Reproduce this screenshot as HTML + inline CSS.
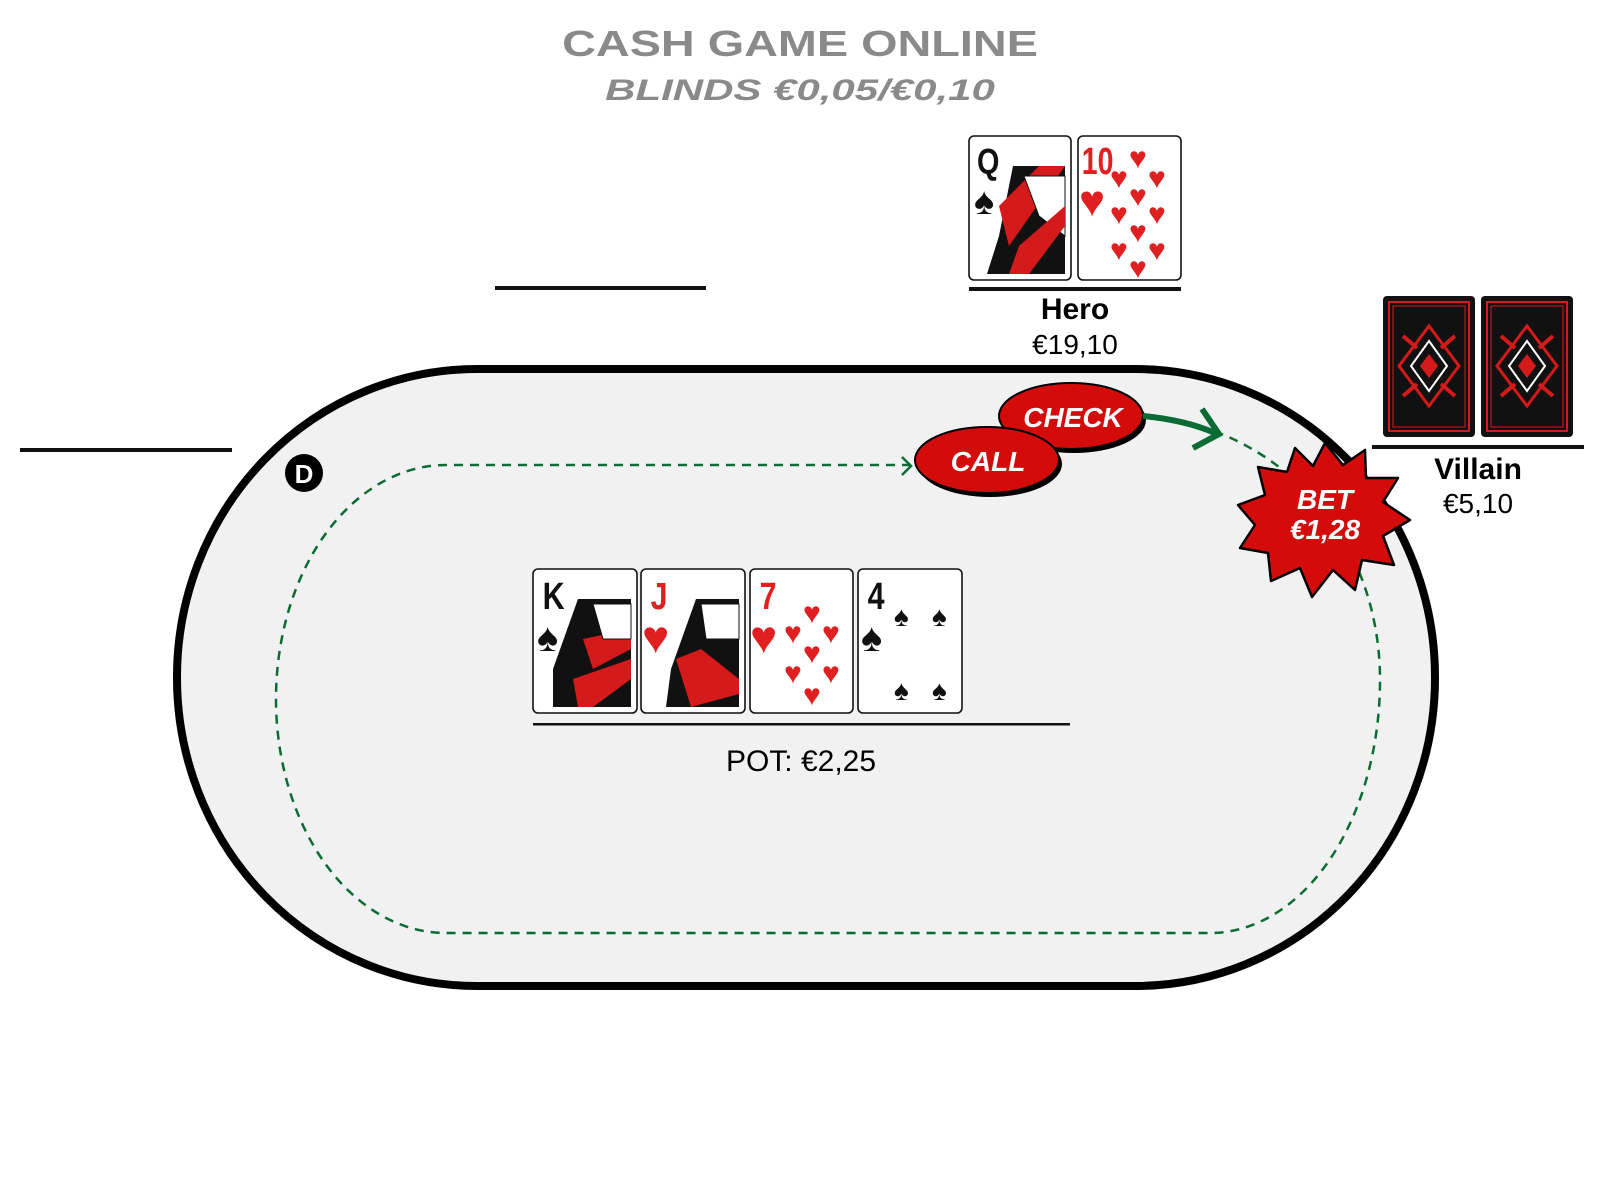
<!DOCTYPE html>
<html><head><meta charset="utf-8"><style>
html,body{margin:0;padding:0;background:#fff;width:1600px;height:1200px;overflow:hidden}
svg{display:block}
.t{font-family:"Liberation Sans",sans-serif}
</style></head><body>
<svg width="1600" height="1200" viewBox="0 0 1600 1200" xmlns="http://www.w3.org/2000/svg" class="t">
<defs>
<g id="back">
  <rect x="0" y="0" width="92" height="141" rx="4" fill="#111"/>
  <rect x="6" y="6" width="80" height="129" fill="none" stroke="#d41a1a" stroke-width="2"/>
  <rect x="10" y="10" width="72" height="121" fill="none" stroke="#d41a1a" stroke-width="1"/>
  <path d="M46 30 L76 70 L46 110 L16 70 Z" fill="none" stroke="#d41a1a" stroke-width="3"/>
  <path d="M46 45 L64 70 L46 95 L28 70 Z" fill="none" stroke="#fff" stroke-width="2"/>
  <path d="M46 58 L55 70 L46 82 L37 70 Z" fill="#d41a1a"/>
  <path d="M20 40 L34 52 M72 40 L58 52 M20 100 L34 88 M72 100 L58 88" stroke="#d41a1a" stroke-width="4"/>
</g>
</defs>

<!-- title -->
<text x="0" y="56" text-anchor="middle" font-size="36" font-weight="bold" fill="#8a8a8a" transform="translate(800,0) scale(1.3,1)">CASH GAME ONLINE</text>
<text x="0" y="100" text-anchor="middle" font-size="30" font-weight="bold" font-style="italic" fill="#8a8a8a" transform="translate(800,0) scale(1.4,1)">BLINDS €0,05/€0,10</text>

<!-- seat lines -->
<rect x="495" y="286" width="211" height="4" fill="#111"/>
<rect x="20" y="448" width="212" height="4" fill="#111"/>

<!-- table -->
<rect x="177" y="369" width="1258" height="617" rx="300" ry="308" fill="#f1f1f1" stroke="#000" stroke-width="8"/>

<!-- dashed path -->
<path d="M911 465 L446 465 A170 234 0 0 0 276 699 A170 234 0 0 0 446 933 L1210 933 A170 253 0 0 0 1380 680 C1380 580 1330 480 1222 434" fill="none" stroke="#0b6b35" stroke-width="2.5" stroke-dasharray="9 7"/>
<path d="M902 457 L911 466 L902 475" fill="none" stroke="#0b6b35" stroke-width="2.5"/>

<!-- dealer button -->
<circle cx="304" cy="473" r="19" fill="#000"/>
<text x="304" y="483" text-anchor="middle" font-size="26" font-weight="bold" fill="#fff">D</text>

<!-- hero cards -->
<g transform="translate(969,136)">
  <rect width="102" height="144" rx="5" fill="#fff" stroke="#111" stroke-width="1.6"/>
  <text x="10" y="38" font-size="36" font-weight="bold" fill="#111" transform="scale(0.8,1)">Q</text>
  <text x="5" y="78" font-size="38" fill="#111">♠</text>
  <path d="M44 30 L96 30 L96 138 L18 138 L30 100 Z" fill="#111"/>
  <path d="M30 70 L70 30 L96 30 L40 110 Z" fill="#d41a1a"/>
  <path d="M55 40 L96 40 L96 100 L70 80 Z" fill="#fff" stroke="#111"/>
  <path d="M50 110 L96 70 L96 90 L60 138 L40 138 Z" fill="#d41a1a"/>
</g>
<g transform="translate(1078,136)">
  <rect width="103" height="144" rx="5" fill="#fff" stroke="#111" stroke-width="1.6"/>
  <text x="5" y="38" font-size="38" font-weight="bold" fill="#e02020" transform="scale(0.75,1)">10</text>
  <text x="1" y="80" font-size="44" fill="#e02020">♥</text>
  <g font-size="30" fill="#e02020">
    <text x="51" y="32">♥</text><text x="32" y="52">♥</text><text x="70" y="52">♥</text>
    <text x="51" y="70">♥</text><text x="32" y="88">♥</text><text x="70" y="88">♥</text>
    <text x="51" y="106">♥</text><text x="32" y="124">♥</text><text x="70" y="124">♥</text><text x="51" y="142">♥</text>
  </g>
</g>
<rect x="969" y="287" width="212" height="4" fill="#111"/>
<text x="1075" y="319" text-anchor="middle" font-size="30" font-weight="bold" fill="#000">Hero</text>
<text x="1075" y="354" text-anchor="middle" font-size="28" fill="#000">€19,10</text>

<!-- villain -->
<use href="#back" x="1383" y="296"/>
<use href="#back" x="1481" y="296"/>
<rect x="1372" y="445" width="212" height="4" fill="#111"/>
<text x="1478" y="479" text-anchor="middle" font-size="30" font-weight="bold" fill="#000">Villain</text>
<text x="1478" y="513" text-anchor="middle" font-size="28" fill="#000">€5,10</text>

<!-- check / call -->
<ellipse cx="1074" cy="420" rx="72" ry="33" fill="#000"/>
<ellipse cx="1071" cy="416" rx="72" ry="33" fill="#d40b0b" stroke="#000" stroke-width="2"/>
<text x="1073" y="427" text-anchor="middle" font-size="28" font-weight="bold" font-style="italic" fill="#fff">CHECK</text>
<ellipse cx="990" cy="464" rx="72" ry="33" fill="#000"/>
<ellipse cx="987" cy="460" rx="72" ry="33" fill="#d40b0b" stroke="#000" stroke-width="2"/>
<text x="988" y="471" text-anchor="middle" font-size="28" font-weight="bold" font-style="italic" fill="#fff">CALL</text>

<!-- green arrow -->
<path d="M1143 416 Q1185 420 1215 433" fill="none" stroke="#0b6b35" stroke-width="6"/>
<path d="M1202 409 L1219 434 L1193 448" fill="none" stroke="#0b6b35" stroke-width="6"/>

<!-- bet starburst -->
<path d="M1325 443 L1343 465 L1365 450 L1366 478 L1398 478 L1383 502 L1410 520 L1383 536 L1394 565 L1362 560 L1355 590 L1333 570 L1312 597 L1300 568 L1271 581 L1268 553 L1240 548 L1255 525 L1238 505 L1265 495 L1258 467 L1287 472 L1295 448 L1313 466 Z" fill="#d40b0b" stroke="#000" stroke-width="2.5" stroke-linejoin="round"/>
<text x="1325" y="509" text-anchor="middle" font-size="28" font-weight="bold" font-style="italic" fill="#fff">BET</text>
<text x="1325" y="539" text-anchor="middle" font-size="28" font-weight="bold" font-style="italic" fill="#fff">€1,28</text>

<!-- board -->
<g transform="translate(533,569)">
  <rect width="104" height="144" rx="5" fill="#fff" stroke="#111" stroke-width="1.6"/>
  <text x="12" y="40" font-size="38" font-weight="bold" fill="#111" transform="scale(0.8,1)">K</text>
  <text x="4" y="82" font-size="40" fill="#111">♠</text>
  <path d="M45 30 L98 30 L98 138 L20 138 L20 100 Z" fill="#111"/>
  <path d="M50 70 L98 60 L98 80 L60 100 Z" fill="#d41a1a"/>
  <path d="M60 35 L98 35 L98 70 L70 70 Z" fill="#fff" stroke="#111"/>
  <path d="M40 110 L98 90 L98 110 L60 138 L45 138 Z" fill="#d41a1a"/>
</g>
<g transform="translate(641,569)">
  <rect width="104" height="144" rx="5" fill="#fff" stroke="#111" stroke-width="1.6"/>
  <text x="12" y="40" font-size="38" font-weight="bold" fill="#e02020" transform="scale(0.8,1)">J</text>
  <text x="1" y="84" font-size="46" fill="#e02020">♥</text>
  <path d="M55 30 L98 30 L98 138 L25 138 L30 100 Z" fill="#111"/>
  <path d="M60 35 L98 35 L98 70 L65 70 Z" fill="#fff" stroke="#111"/>
  <path d="M35 90 L60 80 L98 110 L98 125 L50 138 Z" fill="#d41a1a"/>
</g>
<g transform="translate(750,569)">
  <rect width="103" height="144" rx="5" fill="#fff" stroke="#111" stroke-width="1.6"/>
  <text x="12" y="40" font-size="38" font-weight="bold" fill="#e02020" transform="scale(0.8,1)">7</text>
  <text x="0" y="84" font-size="46" fill="#e02020">♥</text>
  <g font-size="30" fill="#e02020">
    <text x="53" y="54">♥</text><text x="34" y="74">♥</text><text x="72" y="74">♥</text>
    <text x="53" y="94">♥</text><text x="34" y="114">♥</text><text x="72" y="114">♥</text><text x="53" y="136">♥</text>
  </g>
</g>
<g transform="translate(858,569)">
  <rect width="104" height="144" rx="5" fill="#fff" stroke="#111" stroke-width="1.6"/>
  <text x="12" y="40" font-size="38" font-weight="bold" fill="#111" transform="scale(0.8,1)">4</text>
  <text x="3" y="82" font-size="40" fill="#111">♠</text>
  <g font-size="28" fill="#111">
    <text x="36" y="57">♠</text><text x="74" y="57">♠</text>
    <text x="36" y="131">♠</text><text x="74" y="131">♠</text>
  </g>
</g>
<rect x="533" y="723" width="537" height="2.5" fill="#111"/>
<text x="801" y="771" text-anchor="middle" font-size="30" fill="#000">POT: €2,25</text>
</svg>
</body></html>
